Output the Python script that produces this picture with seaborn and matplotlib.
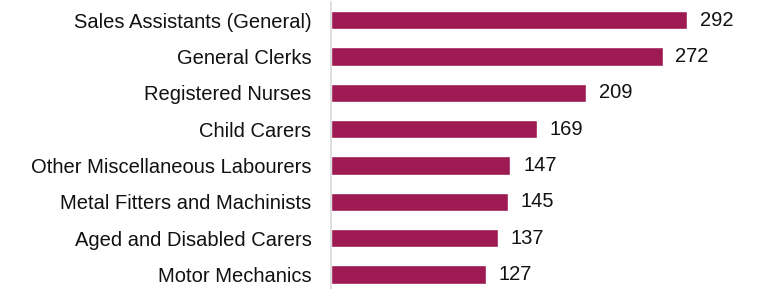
import matplotlib
matplotlib.use("Agg")
import matplotlib.pyplot as plt
import seaborn as sns
import pandas as pd

categories = ["Sales Assistants (General)", "General Clerks", "Registered Nurses",
              "Child Carers", "Other Miscellaneous Labourers",
              "Metal Fitters and Machinists", "Aged and Disabled Carers", "Motor Mechanics"]
values = [292, 272, 209, 169, 147, 145, 137, 127]

df = pd.DataFrame({"occupation": categories, "count": values})

sns.set_theme(style="white")
plt.rcParams['font.family'] = ['Liberation Sans', 'DejaVu Sans']

fig = plt.figure(figsize=(7.6, 2.89), dpi=100)
ax = fig.add_axes([331/760, 0.0, 1 - 331/760, 1 - 2/289])
sns.barplot(data=df, x="count", y="occupation", color="#9E1A53", width=0.5,
            saturation=1, ax=ax, orient="h")
ax.set_xlim(0, (760 - 331) / (356 / 292))
ax.set_ylim(7.4, -0.5)
ax.set_xlabel("")
ax.set_ylabel("")
ax.set_xticks([])
for s in ["top", "right", "bottom"]:
    ax.spines[s].set_visible(False)
ax.spines["left"].set_color("#d9d9d9")
ax.spines["left"].set_linewidth(1.2)
ax.tick_params(axis="y", length=0, pad=14, labelsize=14.5, labelcolor="#111111")
for i, v in enumerate(values):
    ax.text(v + 10.5, i, str(v), va="center", ha="left", fontsize=14.5, color="#111111")
fig.savefig("out.png", dpi=100)
